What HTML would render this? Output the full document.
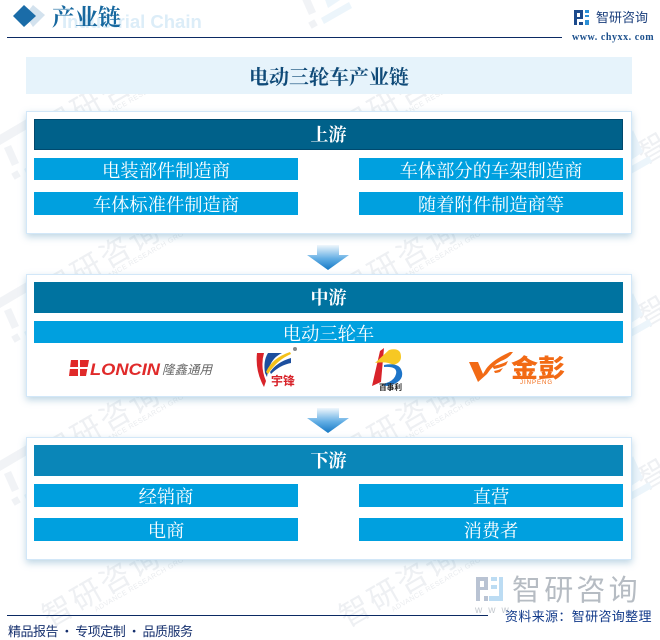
<!DOCTYPE html>
<html><head><meta charset="utf-8"><style>
html,body{margin:0;padding:0;background:#fff}
#p{position:relative;width:660px;height:640px;overflow:hidden;background:#fff;font-family:"Liberation Serif","Noto Serif CJK SC",serif}
#p div{position:absolute;box-sizing:border-box}
.panel{left:26px;width:606px;height:123px;background:#fff;border:1px solid #d2e7f8;box-shadow:0 3px 7px rgba(110,165,195,.45)}
.hd{left:34px;width:589px;height:31px;color:#fff;font-weight:bold;font-size:18px;line-height:32px;text-align:center}
.r{height:23px;background:#00a0df;color:#fff;font-size:18.3px;line-height:26px;text-align:center;white-space:nowrap;overflow:hidden}
.l{left:34px;width:264px}.rr{left:359px;width:264px}
svg{position:absolute;left:0;top:0}
</style></head><body><div id="p">
<svg width="660" height="640" style="z-index:0">
<defs>
<g id="lg">
<rect x="-3.5" y="-3.5" width="7" height="7" fill="#f0f2f5" transform="rotate(-30)"/>
<polygon points="-12,-27 -5,-30 3,-12 -4,-9" fill="#f1f3f6"/>
<polygon points="-20,-38 14,-58 18,-50 -16,-30" fill="#f1f3f6"/>
<polygon points="8,-6 36,-22 39,-16 11,0" fill="#ecf5fb"/>
<polygon points="10,-30 20,-48 30,-26 15,-16" fill="#ecf5fb"/>
</g>
<g id="wm" fill="#eef0f3">
<text font-family="'Liberation Sans','Noto Sans CJK SC',sans-serif" font-size="30" letter-spacing="3">智研咨询</text>
<text x="48" y="9" font-family="'Liberation Sans',sans-serif" font-size="7" letter-spacing=".5" fill="#eaecef">ADVANCE RESEARCH GROUP</text>
</g>
</defs>
<use href="#wm" transform="translate(50,628) rotate(-30)"/>
<use href="#wm" transform="translate(347,628) rotate(-30)"/>
<use href="#wm" transform="translate(50,465) rotate(-30)"/>
<use href="#wm" transform="translate(347,465) rotate(-30)"/>
<use href="#wm" transform="translate(50,302) rotate(-30)"/>
<use href="#wm" transform="translate(347,302) rotate(-30)"/>
<use href="#wm" transform="translate(50,139) rotate(-30)"/>
<use href="#wm" transform="translate(347,139) rotate(-30)"/>
<g fill="#eef0f3" font-family="'Noto Sans CJK SC',sans-serif" font-size="30">
<text transform="translate(644,165) rotate(-30)">智</text>
<text transform="translate(644,328) rotate(-30)">智</text>
<text transform="translate(644,491) rotate(-30)">智</text>
</g>
<use href="#lg" x="16" y="175"/><use href="#lg" x="16" y="338"/><use href="#lg" x="16" y="501"/>
<use href="#lg" x="313" y="24"/>
<use href="#lg" x="613" y="178"/><use href="#lg" x="613" y="341"/><use href="#lg" x="613" y="504"/>
</svg>

<svg width="660" height="60" style="z-index:1">
<polygon points="33,5 45,15 33,27 25,15" fill="#d3e2ee"/>
<polygon points="24,5 36,16 24,27 13,16" fill="#1a6ca8"/>
<text x="62" y="28" font-family="'Liberation Sans',sans-serif" font-size="18.5" font-weight="bold" fill="#dcedf8">Industrial Chain</text>
<text x="52" y="25" font-family="'Noto Serif CJK SC',serif" font-size="23" font-weight="bold" fill="#17689f">产业链</text>
<rect x="7" y="37" width="555" height="1" fill="#0b2a63"/>
<g fill="#1c4a8c">
<rect x="574" y="10" width="9" height="3"/><rect x="574" y="13" width="3" height="12"/><rect x="580" y="13" width="3" height="6"/><rect x="577" y="17" width="4" height="2"/><rect x="579" y="22" width="4" height="3"/>
</g>
<g fill="#2c8fd6">
<rect x="585" y="10" width="4" height="3"/><rect x="585" y="15" width="4" height="2"/><rect x="585" y="20" width="4" height="5"/>
</g>
<text x="596" y="22" font-family="'Noto Sans CJK SC',sans-serif" font-size="13" fill="#1b3f7c">智研咨询</text>
<text x="572" y="40" font-family="'Liberation Serif',serif" font-size="10" font-weight="bold" letter-spacing=".55" fill="#1b4f8c">www. chyxx. com</text>
</svg>

<div style="left:26px;top:57px;width:606px;height:37px;background:#e6f3fb;color:#0f4a78;font-weight:bold;font-size:20px;line-height:42px;text-align:center;z-index:1">电动三轮车产业链</div>

<div class="panel" style="top:111px;z-index:1"></div>
<div class="hd" style="top:119px;background:#00618a;border:1px solid #00496e;line-height:31px;z-index:2">上游</div>
<div class="r l" style="top:158px;z-index:2;height:22px">电装部件制造商</div>
<div class="r rr" style="top:158px;z-index:2;height:22px">车体部分的车架制造商</div>
<div class="r l" style="top:192px;z-index:2">车体标准件制造商</div>
<div class="r rr" style="top:192px;z-index:2">随着附件制造商等</div>

<div class="panel" style="top:274px;z-index:1"></div>
<div class="hd" style="top:282px;background:#0073a0;z-index:2">中游</div>
<div class="r" style="left:34px;width:589px;top:321px;height:22px;z-index:2">电动三轮车</div>

<div class="panel" style="top:437px;z-index:1"></div>
<div class="hd" style="top:445px;background:#0a86b8;z-index:2">下游</div>
<div class="r l" style="top:484px;z-index:2">经销商</div>
<div class="r rr" style="top:484px;z-index:2">直营</div>
<div class="r l" style="top:518px;z-index:2">电商</div>
<div class="r rr" style="top:518px;z-index:2">消费者</div>

<svg width="660" height="640" style="z-index:3">
<defs><linearGradient id="a" x1="0" y1="0" x2="0" y2="1"><stop offset="0" stop-color="#f0f7fc"/><stop offset=".55" stop-color="#62aee4"/><stop offset="1" stop-color="#1578c4"/></linearGradient></defs>
<polygon points="317,245 339,245 339,255 349,255 328,270 307,255 317,255" fill="url(#a)"/>
<polygon points="317,408 339,408 339,418 349,418 328,433 307,418 317,418" fill="url(#a)"/>

<g>
<path d="M71,360h18l-3,16h-17z" fill="#e02a2a"/>
<rect x="69" y="367" width="20" height="2" fill="#fff"/><rect x="78" y="360" width="2" height="16" fill="#fff"/>
<text x="90" y="375" font-family="'Liberation Sans',sans-serif" font-size="17" font-weight="bold" font-style="italic" fill="#e02a2a" textLength="70" lengthAdjust="spacingAndGlyphs">LONCIN</text>
<text x="162" y="374" font-family="'Noto Sans CJK SC',sans-serif" font-size="12.5" font-style="italic" fill="#666">隆鑫通用</text>
</g>
<g>
<path d="M257,353h7q-4,14,2,28l-2,6q-9,-16,-7,-34z" fill="#d8232a"/>
<path d="M268,353h14q-13,6,-15,24l-2,-4q-2,-12,3,-20z" fill="#1d4f9e"/>
<path d="M266,372q6,-14,24,-20l1,2q-14,6,-23,20z" fill="#f3c11a"/>
<path d="M270,372q7,-10,21,-14l0,5q-11,2,-20,11z" fill="#1d4f9e"/>
<text x="271" y="385" font-family="'Noto Sans CJK SC',sans-serif" font-size="12" font-weight="bold" fill="#d8232a">宇锋</text>
<circle cx="295" cy="349" r="2" fill="#888"/>
</g>
<g>
<path d="M372,386l8,-35 4,-3 -3,34z" fill="#d8232a"/>
<path d="M375,363l14,-13q12,-3,12,7q0,6,-8,8q-6,-4,-18,-2z" fill="#f7c823"/>
<path d="M384,365q16,-3,18,7t-14,14q-4,0,-6,-2q12,-2,14,-10t-12,-7z" fill="#1d74c8"/>
<text x="379" y="390" font-family="'Noto Sans CJK SC',sans-serif" font-size="8" font-weight="bold" fill="#222" textLength="23" lengthAdjust="spacingAndGlyphs">百事利</text>
</g>
<g fill="#f26a15">
<path d="M469,362h9l5,12 3,-5q6,-9,24,-17l3,0q-4,6,-12,9q-8,4,-14,13l-9,8z"/>
<path d="M492,366q8,-1,16,-5l-2,4q-6,3,-12,4zM494,371q5,-1,9,-3l-3,4q-3,1,-5,1z"/>
<text x="511" y="377" font-family="'Noto Sans CJK SC',sans-serif" font-size="25" font-weight="900" textLength="54" lengthAdjust="spacingAndGlyphs">金彭</text>
<text x="520" y="384" font-family="'Liberation Sans',sans-serif" font-size="6" letter-spacing="1">JINPENG</text>
</g>

<rect x="476" y="577" width="12" height="4" fill="#b9c3d3"/><rect x="476" y="581" width="4" height="20" fill="#b9c3d3"/><rect x="484" y="581" width="4" height="9" fill="#b9c3d3"/><rect x="480" y="587" width="5" height="3" fill="#b9c3d3"/><rect x="484" y="596" width="4" height="5" fill="#b9c3d3"/>
<rect x="491" y="577" width="6" height="4" fill="#bcdcf3"/><rect x="499" y="577" width="4" height="24" fill="#bcdcf3"/><rect x="491" y="585" width="6" height="4" fill="#bcdcf3"/><rect x="489" y="596" width="10" height="5" fill="#bcdcf3"/>
<text x="512" y="600" font-family="'Noto Sans CJK SC',sans-serif" font-size="29" letter-spacing="3.2" fill="#b6bcc3">智研咨询</text>
<text x="475" y="613" font-family="'Liberation Sans',sans-serif" font-size="10" letter-spacing="6" fill="#c4c9cf">www</text>

<rect x="7" y="615" width="481" height="1" fill="#0b2a63"/>
<text x="505" y="621" font-family="'Noto Sans CJK SC',sans-serif" font-size="13" letter-spacing=".35" fill="#123a8a">资料来源：智研咨询整理</text>
<text x="8" y="636" font-family="'Noto Sans CJK SC',sans-serif" font-size="13" fill="#16306e" textLength="185">精品报告 · 专项定制 · 品质服务</text>
</svg>
</div></body></html>
